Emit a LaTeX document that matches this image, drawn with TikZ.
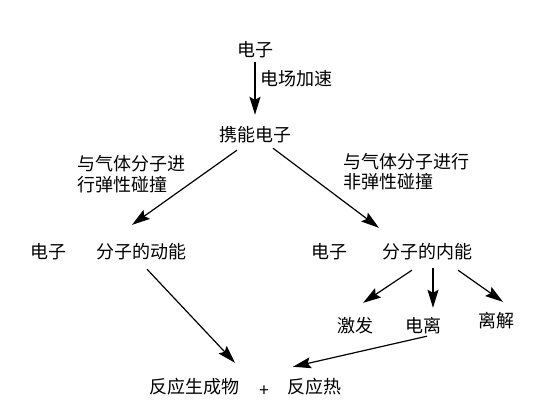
\documentclass[tikz,border=0pt]{standalone}
\usepackage{fontspec}
\setmainfont{Noto Sans CJK SC}
\usetikzlibrary{arrows.meta}
\begin{document}
\begin{tikzpicture}[x=1pt, y=-1pt,
  txt/.style={inner sep=0pt, text height=15pt, text depth=2pt, font=\fontsize{18}{21}\selectfont},
  arr/.style={-{Stealth[length=18pt, width=11pt, inset=3pt]}, line width=1.2pt}]
\useasboundingbox (0,0) rectangle (546,417);
% ---------- top: the electron is accelerated ----------
\node[txt] (e0) at (255,50) {电子};
\node[txt] (carrier) at (255,135) {携能电子};
\node[txt, anchor=west] (accel) at (260,79) {电场加速};
\draw[arr, shorten <=3.5pt, shorten >=11.5pt] (e0.south) -- (carrier.north);
% ---------- left: elastic collision ----------
\node[txt, anchor=west] (elasA) at (77,164) {与气体分子进};
\node[txt, anchor=west] (elasB) at (77,185) {行弹性碰撞};
\node[txt] (eL) at (48,252) {电子};
\node[txt] (kinetic) at (141,252) {分子的动能};
\draw[arr, shorten <=11.2pt, shorten >=31.8pt] ([xshift=-8.9pt]carrier.south) -- ([xshift=-34.9pt]kinetic.north);
% ---------- right: inelastic collision ----------
\node[txt, anchor=west] (inelA) at (343,162) {与气体分子进行};
\node[txt, anchor=west] (inelB) at (343,182) {非弹性碰撞};
\node[txt] (eR) at (329,252) {电子};
\node[txt] (internal) at (427.5,252) {分子的内能};
\draw[arr, shorten <=7.5pt, shorten >=25.7pt] ([xshift=12pt]carrier.south) -- ([xshift=-28pt]internal.north);
% the three channels
\node[txt] (excite) at (355,326) {激发};
\node[txt] (ionize) at (423,326) {电离};
\node[txt] (dissoc) at (496,321) {离解};
\draw[arr, shorten <=17pt, shorten >=26pt] ([xshift=-1.4pt]internal.south) -- ([xshift=-13.5pt]excite.north);
\draw[arr, shorten <=7.5pt, shorten >=9.5pt] ([xshift=5.5pt]internal.south) -- ([xshift=10pt]ionize.north);
\draw[arr, shorten <=16.4pt, shorten >=18.1pt] ([xshift=17.1pt]internal.south) -- ([xshift=21.8pt]dissoc.north);
% ---------- bottom: products ----------
\node[txt] (products) at (194,387) {反应生成物};
\node[inner sep=0pt, font=\fontsize{17}{19}\selectfont] (plus) at (264,391) {+};
\node[txt] (heat) at (314,387) {反应热};
\draw[arr, shorten <=11.6pt, shorten >=2.2pt] ([xshift=-2pt]kinetic.south) -- ([shift={(42.5pt,13.9pt)}]products.north);
\draw[arr, shorten <=6.7pt, shorten >=4.6pt] ([xshift=10.5pt]ionize.south) -- ([shift={(-25.5pt,10.5pt)}]heat.north);
\end{tikzpicture}
\end{document}
